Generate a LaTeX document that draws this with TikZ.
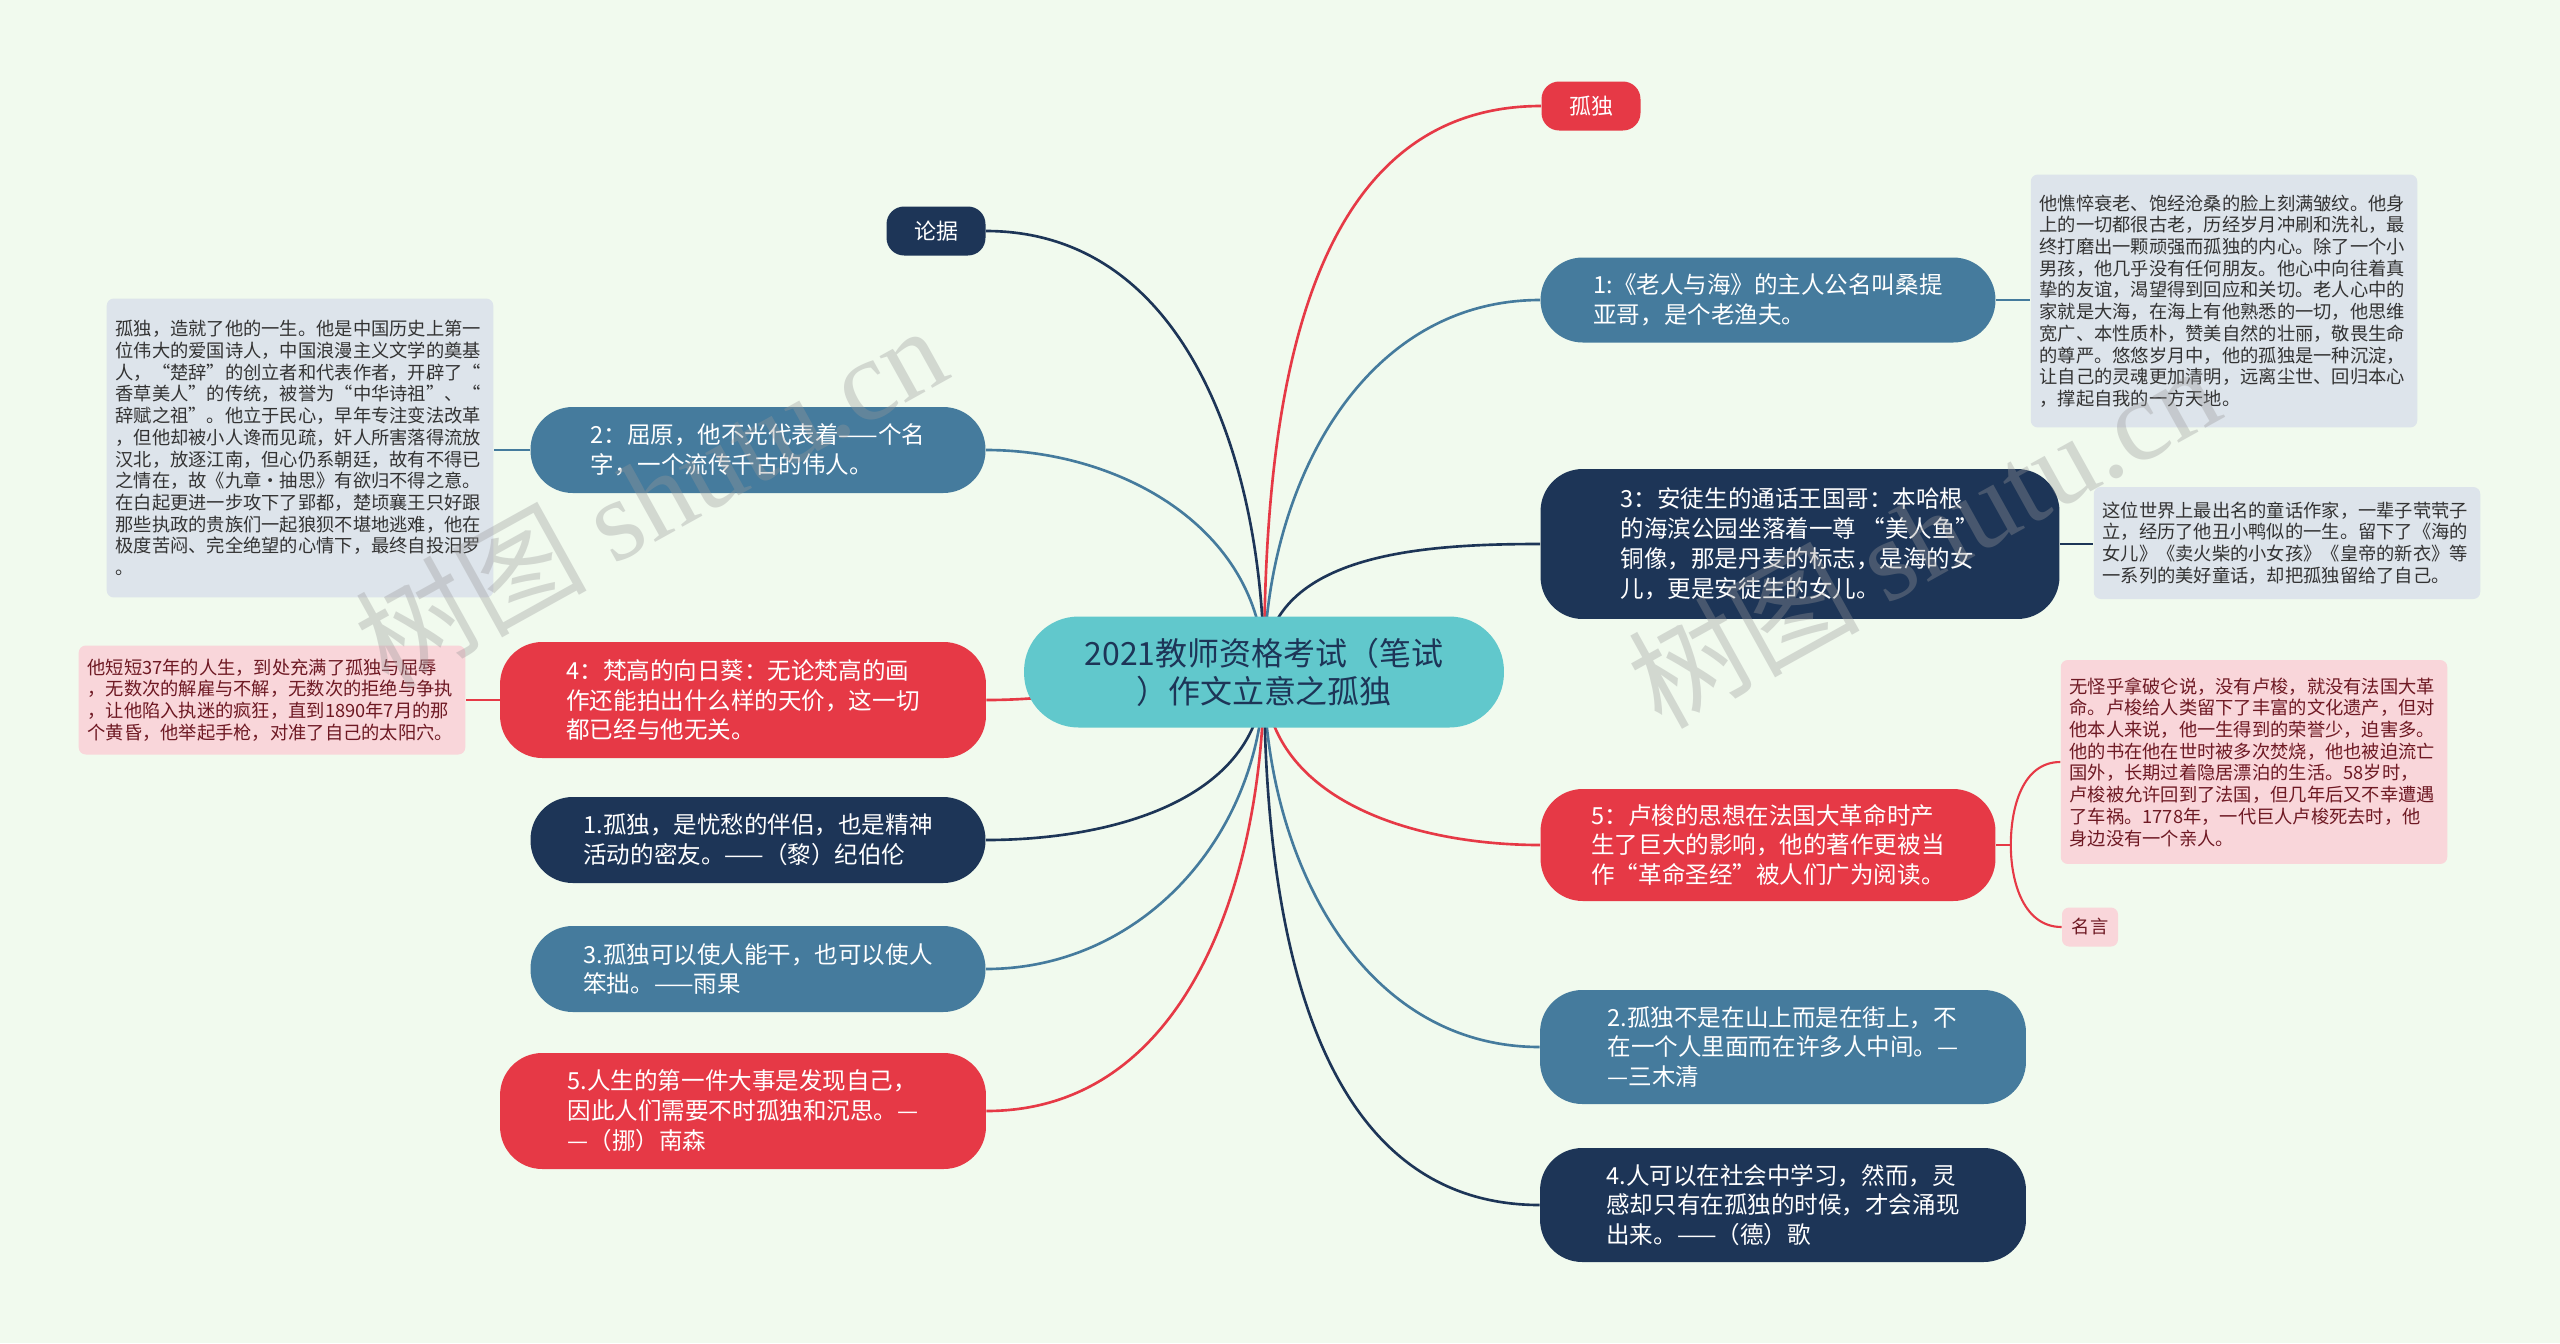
\documentclass[tikz,border=0pt]{standalone}
\usepackage{fontspec}
\setmainfont{Noto Sans CJK SC}
\newfontfamily\wmfont{Liberation Serif}
\usetikzlibrary{positioning,backgrounds}
\definecolor{bgmint}{HTML}{F1FAEE}
\definecolor{rootteal}{RGB}{97,200,204}
\definecolor{steelblue}{HTML}{457B9D}
\definecolor{deepnavy}{HTML}{1D3557}
\definecolor{alertred}{HTML}{E63946}
\definecolor{notegrey}{RGB}{221,228,235}
\definecolor{notepink}{RGB}{249,214,218}
\colorlet{notetext}{black!80}
\definecolor{pinktext}{RGB}{110,25,35}

\begin{document}
\begin{tikzpicture}[x=.02cm,y=-.02cm,
    every node/.style={font=\fontsize{13.4}{17}\selectfont},
    topic/.style={rounded corners=24pt,text=white,align=left,inner sep=0pt},
    tag/.style={rounded corners=10pt,text=white,inner sep=0pt,minimum width=1.98cm,minimum height=.98cm,font=\fontsize{12.5}{15}\selectfont},
    note/.style={rounded corners=4pt,text width=210pt,inner xsep=5pt,inner ysep=0pt,align=left,font=\fontsize{10.4}{12.35}\selectfont},
    bluenote/.style={note,fill=notegrey,text=notetext},
    pinknote/.style={note,fill=notepink,text=pinktext},
    link/.style={line width=1.5pt},
    wm/.style={text=gray!80,opacity=.35,rotate=29,font=\fontsize{66}{66}\selectfont}]
    \useasboundingbox (0,0) rectangle (2560,1343);
    \node[topic,fill=rootteal,text=deepnavy,align=center,rounded corners=31pt,minimum width=9.6cm,minimum height=2.22cm,font=\fontsize{18.2}{21.6}\selectfont] (root) at (1264,672) {2021教师资格考试（笔试\\）作文立意之孤独};
    \node[tag,fill=alertred] (gudu) at (1591,106) {孤独};
    \node[tag,fill=deepnavy] (lunju) at (936,231) {论据};
    \node[topic,fill=steelblue,minimum width=9.1cm,minimum height=1.7cm] (r1) at (1768,300) {1:《老人与海》的主人公名叫桑提\\亚哥，是个老渔夫。};
    \node[topic,fill=deepnavy,minimum width=10.38cm,minimum height=3cm] (r3) at (1800,544) {3：安徒生的通话王国哥：本哈根\\的海滨公园坐落着一尊 “美人鱼”\\铜像，那是丹麦的标志，是海的女\\儿，更是安徒生的女儿。};
    \node[topic,fill=alertred,minimum width=9.1cm,minimum height=2.24cm] (r5) at (1768,845) {5：卢梭的思想在法国大革命时产\\生了巨大的影响，他的著作更被当\\作“革命圣经”被人们广为阅读。};
    \node[topic,fill=steelblue,minimum width=9.72cm,minimum height=2.28cm] (r2) at (1783,1047) {2.孤独不是在山上而是在街上，不\\在一个人里面而在许多人中间。—\\—三木清};
    \node[topic,fill=deepnavy,minimum width=9.72cm,minimum height=2.28cm] (r4) at (1783,1205) {4.人可以在社会中学习，然而，灵\\感却只有在孤独的时候，才会涌现\\出来。——（德）歌};
    \node[topic,fill=steelblue,minimum width=9.1cm,minimum height=1.72cm] (l2) at (758,450) {2：屈原，他不光代表着——个名\\字，一个流传千古的伟人。};
    \node[topic,fill=alertred,minimum width=9.72cm,minimum height=2.32cm] (l4) at (743,700) {4：梵高的向日葵：无论梵高的画\\作还能拍出什么样的天价，这一切\\都已经与他无关。};
    \node[topic,fill=deepnavy,minimum width=9.1cm,minimum height=1.72cm] (l1) at (758,840) {1.孤独，是忧愁的伴侣，也是精神\\活动的密友。——（黎）纪伯伦};
    \node[topic,fill=steelblue,minimum width=9.1cm,minimum height=1.72cm] (l3) at (758,969) {3.孤独可以使人能干，也可以使人\\笨拙。——雨果};
    \node[topic,fill=alertred,minimum width=9.72cm,minimum height=2.32cm] (l5) at (743,1111) {5.人生的第一件大事是发现自己，\\因此人们需要不时孤独和沉思。—\\—（挪）南森};
    \node[bluenote,minimum height=5.06cm] (n1) at (2224,301) {他憔悴衰老、饱经沧桑的脸上刻满皱纹。他身\\上的一切都很古老，历经岁月冲刷和洗礼，最\\终打磨出一颗顽强而孤独的内心。除了一个小\\男孩，他几乎没有任何朋友。他心中向往着真\\挚的友谊，渴望得到回应和关切。老人心中的\\家就是大海，在海上有他熟悉的一切，他思维\\宽广、本性质朴，赞美自然的壮丽，敬畏生命\\的尊严。悠悠岁月中，他的孤独是一种沉淀，\\让自己的灵魂更加清明，远离尘世、回归本心\\，撑起自我的一方天地。};
    \node[bluenote,minimum height=2.24cm] (n3) at (2287,543) {这位世界上最出名的童话作家，一辈子茕茕子\\立，经历了他丑小鸭似的一生。留下了《海的\\女儿》《卖火柴的小女孩》《皇帝的新衣》等\\一系列的美好童话，却把孤独留给了自己。};
    \node[pinknote,minimum height=4.08cm] (n5) at (2254,762) {无怪乎拿破仑说，没有卢梭，就没有法国大革\\命。卢梭给人类留下了丰富的文化遗产，但对\\他本人来说，他一生得到的荣誉少，迫害多。\\他的书在他在世时被多次焚烧，他也被迫流亡\\国外，长期过着隐居漂泊的生活。58岁时，\\卢梭被允许回到了法国，但几年后又不幸遭遇\\了车祸。1778年，一代巨人卢梭死去时，他\\身边没有一个亲人。};
    \node[rounded corners=4pt,fill=notepink,text=pinktext,inner sep=0pt,minimum width=1.12cm,minimum height=.78cm,font=\fontsize{10.4}{12.35}\selectfont] (mingyan) at (2090,927) {名言};
    \node[bluenote,minimum height=5.98cm] (n2) at (300,448) {孤独，造就了他的一生。他是中国历史上第一\\位伟大的爱国诗人，中国浪漫主义文学的奠基\\人，“楚辞”的创立者和代表作者，开辟了“\\香草美人”的传统，被誉为“中华诗祖”、“\\辞赋之祖”。他立于民心，早年专注变法改革\\，但他却被小人谗而见疏，奸人所害落得流放\\汉北，放逐江南，但心仍系朝廷，故有不得已\\之情在，故《九章·抽思》有欲归不得之意。\\在白起更进一步攻下了郢都，楚顷襄王只好跟\\那些执政的贵族们一起狼狈不堪地逃难，他在\\极度苦闷、完全绝望的心情下，最终自投汨罗\\。};
    \node[pinknote,minimum height=2.18cm] (n4) at (272,700) {他短短37年的人生，到处充满了孤独与屈辱\\，无数次的解雇与不解，无数次的拒绝与争执\\，让他陷入执迷的疯狂，直到1890年7月的那\\个黄昏，他举起手枪，对准了自己的太阳穴。};
    \begin{scope}[on background layer]
      \fill[bgmint] (0,0) rectangle (2560,1343);
      \draw[link,alertred] (root.center) to[out=90,in=180] (gudu.west);
      \draw[link,deepnavy] (root.center) to[out=90,in=0] (lunju.east);
      \draw[link,steelblue] (root.center) to[out=90,in=180] (r1.west);
      \draw[link,deepnavy] (root.center) to[out=90,in=180] (r3.west);
      \draw[link,alertred] (root.center) to[out=-90,in=180] (r5.west);
      \draw[link,steelblue] (root.center) to[out=-90,in=180] (r2.west);
      \draw[link,deepnavy] (root.center) to[out=-90,in=180] (r4.west);
      \draw[link,steelblue] (root.center) to[out=90,in=0] (l2.east);
      \draw[link,alertred] (root.center) to[out=180,in=0] (l4.east);
      \draw[link,deepnavy] (root.center) to[out=-90,in=0] (l1.east);
      \draw[link,steelblue] (root.center) to[out=-90,in=0] (l3.east);
      \draw[link,alertred] (root.center) to[out=-90,in=0] (l5.east);
      \draw[link,steelblue] (r1.east) -- (r1.east -| n1.west);
      \draw[link,deepnavy] (r3.east) -- (r3.east -| n3.west);
      \draw[link,steelblue] (l2.west) -- (l2.west -| n2.east);
      \draw[link,alertred] (l4.west) -- (l4.west -| n4.east);
      \draw[alertred,line width=1.2pt] (r5.east) -- ++(15,0) coordinate (brk);
      \draw[alertred,line width=1.2pt] (brk) to[out=90,in=180] (n5.west);
      \draw[alertred,line width=1.2pt] (brk) to[out=-90,in=180] (mingyan.west);
    \end{scope}
    \node[wm] at (650,495) {树图 {\wmfont shutu.cn}};
    \node[wm] at (1923,535) {树图 {\wmfont shutu.cn}};
  \end{tikzpicture}
\end{document}
